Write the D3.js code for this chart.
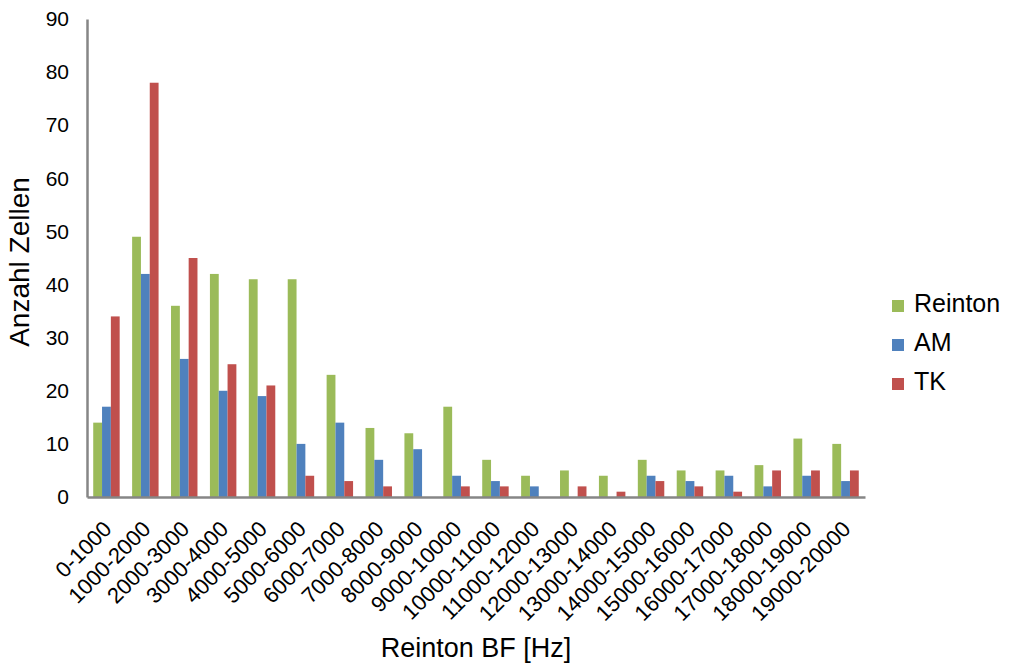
<!DOCTYPE html>
<html>
<head>
<meta charset="utf-8">
<script src="https://cdn.jsdelivr.net/npm/d3@7"></script>
<style>
  body { margin: 0; background: #fff; }
  svg { display: block; font-family: "Liberation Sans", Arial, sans-serif; }
</style>
</head>
<body>
<div id="chart"></div>
<script>
const categories = ["0-1000", "1000-2000", "2000-3000", "3000-4000", "4000-5000",
  "5000-6000", "6000-7000", "7000-8000", "8000-9000", "9000-10000",
  "10000-11000", "11000-12000", "12000-13000", "13000-14000", "14000-15000",
  "15000-16000", "16000-17000", "17000-18000", "18000-19000", "19000-20000"];
const reinton = [14, 49, 36, 42, 41, 41, 23, 13, 12, 17, 7, 4, 5, 4, 7, 5, 5, 6, 11, 10];
const am = [17, 42, 26, 20, 19, 10, 14, 7, 9, 4, 3, 2, 0, 0, 4, 3, 4, 2, 4, 3];
const tk = [34, 78, 45, 25, 21, 4, 3, 2, 0, 2, 2, 0, 2, 1, 3, 2, 1, 5, 5, 5];
const seriesNames = ["Reinton", "AM", "TK"];
const seriesColors = ["#9BBB59", "#4F81BD", "#C0504D"];
const yTicks = [0, 10, 20, 30, 40, 50, 60, 70, 80, 90];

const width = 1009, height = 665;
const plotLeft = 87, plotRight = 865, plotTop = 19, plotBottom = 497;

const svg = d3.select("#chart").append("svg")
  .attr("width", width)
  .attr("height", height);

const x = d3.scaleBand()
  .domain(categories)
  .range([plotLeft, plotRight])
  .paddingInner(0.32)
  .paddingOuter(0.16);

const xInner = d3.scaleBand()
  .domain(seriesNames)
  .range([0, x.bandwidth()]);

const y = d3.scaleLinear()
  .domain([0, 90])
  .range([plotBottom, plotTop]);

const allSeries = [reinton, am, tk];

// bars
allSeries.forEach((vals, si) => {
  svg.append("g")
    .selectAll("rect")
    .data(vals)
    .enter().append("rect")
    .attr("x", (d, i) => x(categories[i]) + xInner(seriesNames[si]))
    .attr("y", (d) => y(d))
    .attr("width", xInner.bandwidth())
    .attr("height", (d) => y(0) - y(d))
    .attr("fill", seriesColors[si]);
});

// y axis
const yAxis = svg.append("g")
  .attr("transform", `translate(${plotLeft},0)`)
  .call(d3.axisLeft(y).tickValues(yTicks).tickSize(0).tickPadding(18));
yAxis.select(".domain").attr("stroke", "#868686").attr("stroke-width", 2.5);
yAxis.selectAll("text")
  .attr("font-size", 21)
  .attr("fill", "#000")
  .attr("font-family", "Liberation Sans, Arial, sans-serif");

// x axis
const xAxis = svg.append("g")
  .attr("transform", `translate(0,${plotBottom})`)
  .call(d3.axisBottom(x).tickSize(0).tickSizeOuter(0));
xAxis.select(".domain").attr("stroke", "#868686").attr("stroke-width", 2.5);
xAxis.selectAll("text")
  .attr("font-size", 22)
  .attr("fill", "#000")
  .attr("font-family", "Liberation Sans, Arial, sans-serif")
  .attr("text-anchor", "end")
  .attr("x", 0)
  .attr("y", 0)
  .attr("dy", "0.35em")
  .attr("transform", "translate(1,28) rotate(-45)");

// axis titles
svg.append("text")
  .attr("transform", "translate(29,262) rotate(-90)")
  .attr("text-anchor", "middle")
  .attr("font-size", 28)
  .text("Anzahl Zellen");

svg.append("text")
  .attr("x", 476)
  .attr("y", 657)
  .attr("text-anchor", "middle")
  .attr("font-size", 27)
  .text("Reinton BF [Hz]");

// legend
const legend = svg.append("g")
  .selectAll("g")
  .data(seriesNames)
  .enter().append("g")
  .attr("transform", (d, i) => `translate(892,${300 + i * 39})`);
legend.append("rect")
  .attr("x", 0)
  .attr("y", 0)
  .attr("width", 12)
  .attr("height", 12)
  .attr("fill", (d, i) => seriesColors[i]);
legend.append("text")
  .attr("x", 22)
  .attr("y", 11.5)
  .attr("font-size", 25)
  .text((d) => d);
</script>
</body>
</html>
